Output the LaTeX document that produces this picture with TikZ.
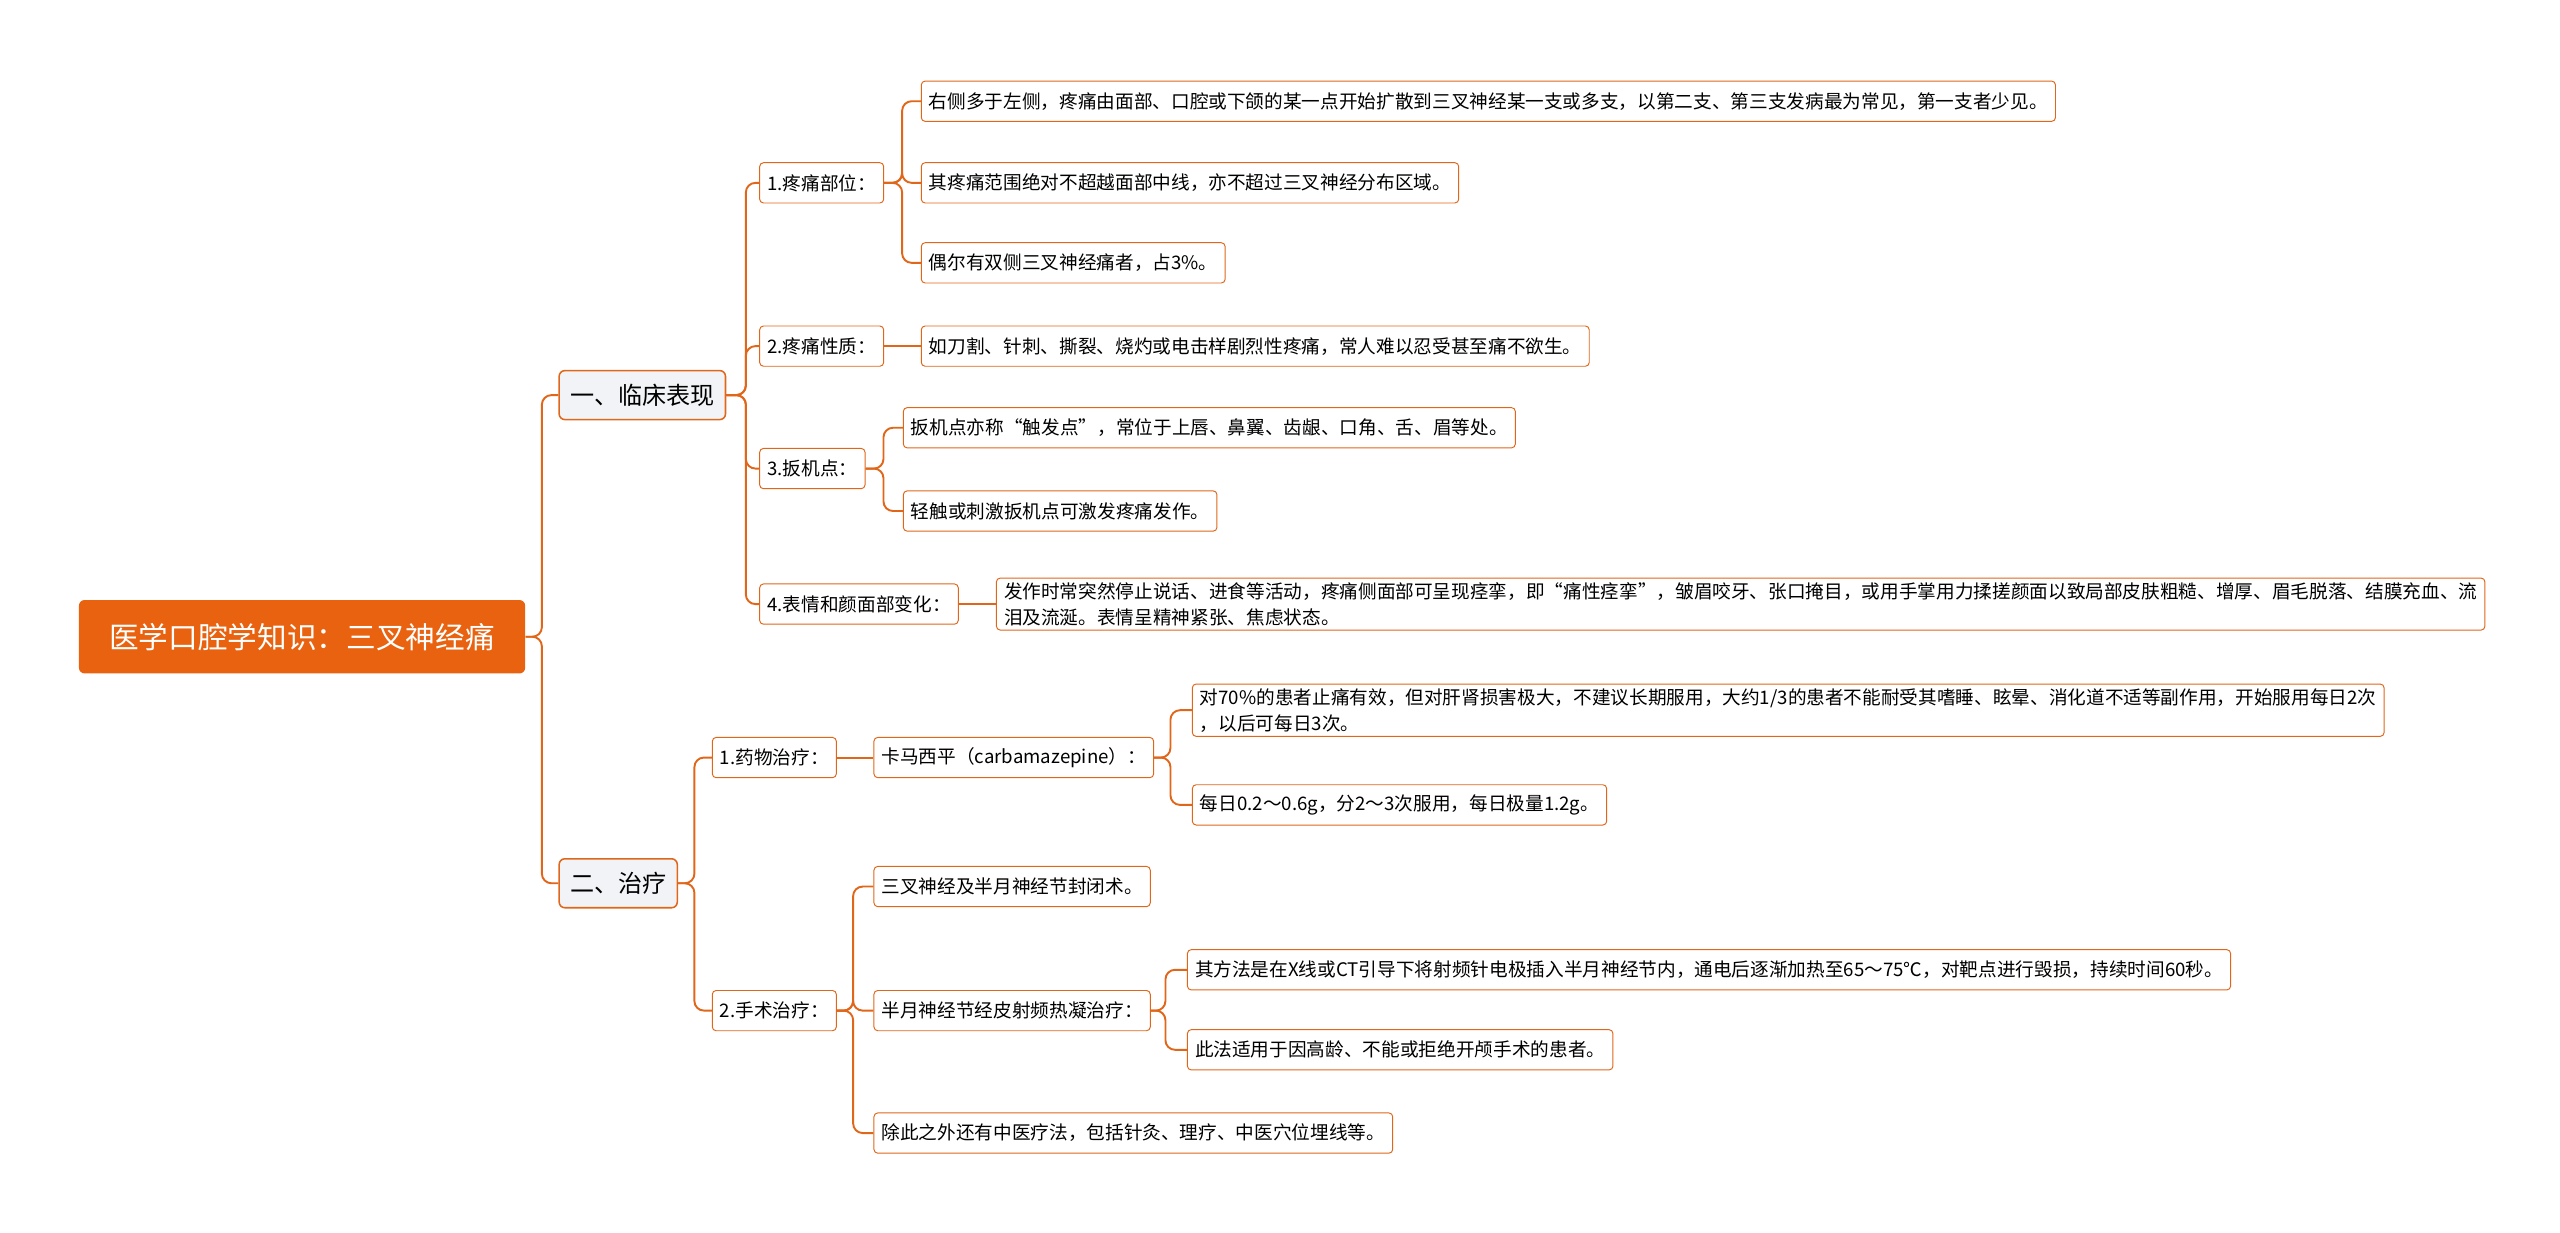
\documentclass[tikz,border=0pt]{standalone}
\usepackage{fontspec}
\setmainfont{Noto Sans CJK SC}
\definecolor{org}{HTML}{E0661A}
\definecolor{rootc}{HTML}{E8620F}
\definecolor{lg}{HTML}{F1F3F6}
\begin{document}
\begin{tikzpicture}[x=0.3mm,y=-0.3mm,
 leaf/.style={draw=org,line width=0.5pt,rounded corners=2pt,fill=white,inner xsep=1.4mm,inner ysep=0.8mm,minimum height=7.4mm,anchor=west,font=\fontsize{9.75pt}{13.5pt}\selectfont,align=left},
 lone/.style={draw=org,line width=0.8pt,rounded corners=3pt,fill=lg,inner xsep=2mm,minimum height=9mm,anchor=west,font=\fontsize{12.6pt}{15pt}\selectfont},
 con/.style={draw=org,line width=1pt,rounded corners=5pt}]
\useasboundingbox (0,0) rectangle (1568,755);
\node[fill=rootc,text=white,rounded corners=3pt,minimum height=13.5mm,minimum width=82mm,font=\fontsize{15.5pt}{18pt}\selectfont] (root) at (185,390) {医学口腔学知识：三叉神经痛};
\node[lone] (a) at (342,242) {一、临床表现};
\node[lone] (b) at (342,541) {二、治疗};
\node[leaf] (a1) at (465,112) {1.疼痛部位：};
\node[leaf] (a2) at (465,212) {2.疼痛性质：};
\node[leaf] (a3) at (465,287) {3.扳机点：};
\node[leaf] (a4) at (465,370) {4.表情和颜面部变化：};
\node[leaf] (a11) at (564,62) {右侧多于左侧，疼痛由面部、口腔或下颌的某一点开始扩散到三叉神经某一支或多支，以第二支、第三支发病最为常见，第一支者少见。};
\node[leaf] (a12) at (564,112) {其疼痛范围绝对不超越面部中线，亦不超过三叉神经分布区域。};
\node[leaf] (a13) at (564,161) {偶尔有双侧三叉神经痛者，占3\%。};
\node[leaf] (a21) at (564,212) {如刀割、针刺、撕裂、烧灼或电击样剧烈性疼痛，常人难以忍受甚至痛不欲生。};
\node[leaf] (a31) at (553,262) {扳机点亦称“触发点”，常位于上唇、鼻翼、齿龈、口角、舌、眉等处。};
\node[leaf] (a32) at (553,313) {轻触或刺激扳机点可激发疼痛发作。};
\node[leaf] (a41) at (610,370) {发作时常突然停止说话、进食等活动，疼痛侧面部可呈现痉挛，即“痛性痉挛”，皱眉咬牙、张口掩目，或用手掌用力揉搓颜面以致局部皮肤粗糙、增厚、眉毛脱落、结膜充血、流\\泪及流涎。表情呈精神紧张、焦虑状态。};
\node[leaf] (b1) at (436,464) {1.药物治疗：};
\node[leaf] (b11) at (535,464) {卡马西平（carbamazepine）：};
\node[leaf] (b111) at (730,435) {对70\%的患者止痛有效，但对肝肾损害极大，不建议长期服用，大约1/3的患者不能耐受其嗜睡、眩晕、消化道不适等副作用，开始服用每日2次\\，以后可每日3次。};
\node[leaf] (b112) at (730,493) {每日0.2～0.6g，分2～3次服用，每日极量1.2g。};
\node[leaf] (b2) at (436,619) {2.手术治疗：};
\node[leaf] (b21) at (535,543) {三叉神经及半月神经节封闭术。};
\node[leaf] (b22) at (535,619) {半月神经节经皮射频热凝治疗：};
\node[leaf] (b23) at (535,694) {除此之外还有中医疗法，包括针灸、理疗、中医穴位埋线等。};
\node[leaf] (b221) at (727,594) {其方法是在X线或CT引导下将射频针电极插入半月神经节内，通电后逐渐加热至65～75℃，对靶点进行毁损，持续时间60秒。};
\node[leaf] (b222) at (727,643) {此法适用于因高龄、不能或拒绝开颅手术的患者。};
\foreach \p/\d/\cs in {root/10/{a,b},a/12/{a1,a2,a3,a4},a1/11/{a11,a12,a13},a3/11/{a31,a32},b/10/{b1,b2},b11/10/{b111,b112},b2/10/{b21,b22,b23},b22/9/{b221,b222}}
 \foreach \c in \cs {\draw[con] (\p.east) -- ++(\d,0) |- (\c.west);}
\foreach \p/\c in {a2/a21,a4/a41,b1/b11}
 \draw[con] (\p.east) -- (\c.west);
\end{tikzpicture}
\end{document}
